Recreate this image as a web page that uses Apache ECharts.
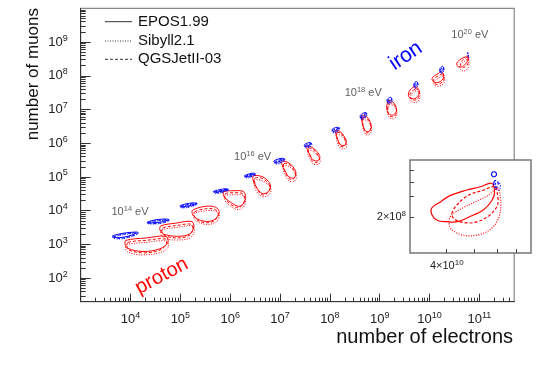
<!DOCTYPE html>
<html>

<head>
  <meta charset="utf-8" />
  <script src="https://cdn.jsdelivr.net/npm/echarts@6/dist/echarts.min.js"></script>
</head>

<body style="margin:0">
  <div id="main" style="width: 540px;height:366px;"></div>
  <script type="text/javascript">
    // contours in log10(Ne), log10(Nmu); one entry per primary energy
    var energies = [14, 14.5, 15, 15.5, 16, 16.5, 17, 17.5, 18, 18.5, 19, 19.5, 20]

    // proton, EPOS1.99 (solid)
    var protonEPOS = [
      [[3.91, 3.12], [4.31, 3.19], [4.71, 3.24], [4.75, 3.06], [4.59, 2.87], [4.25, 2.79], [3.95, 2.88], [3.89, 3.00]],
      [[4.61, 3.55], [4.91, 3.63], [5.23, 3.68], [5.27, 3.52], [5.19, 3.31], [4.95, 3.24], [4.67, 3.30], [4.59, 3.43]],
      [[5.25, 4.02], [5.51, 4.13], [5.71, 4.10], [5.78, 3.94], [5.69, 3.74], [5.53, 3.68], [5.33, 3.76], [5.24, 3.91]],
      [[5.87, 4.56], [6.06, 4.59], [6.26, 4.57], [6.31, 4.41], [6.26, 4.20], [6.16, 4.13], [6.00, 4.26], [5.88, 4.41]],
      [[6.46, 5.03], [6.62, 5.02], [6.74, 4.91], [6.81, 4.74], [6.76, 4.56], [6.64, 4.51], [6.52, 4.71], [6.46, 4.91]],
      [[7.04, 5.46], [7.16, 5.43], [7.26, 5.30], [7.32, 5.12], [7.28, 4.97], [7.18, 5.00], [7.10, 5.18], [7.04, 5.36]],
      [[7.54, 5.91], [7.64, 5.88], [7.74, 5.75], [7.80, 5.60], [7.76, 5.48], [7.66, 5.51], [7.60, 5.66], [7.55, 5.80]],
      [[8.11, 6.38], [8.20, 6.35], [8.28, 6.22], [8.33, 6.06], [8.30, 5.94], [8.22, 5.95], [8.16, 6.10], [8.12, 6.28]],
      [[8.64, 6.81], [8.72, 6.80], [8.79, 6.69], [8.83, 6.52], [8.80, 6.37], [8.73, 6.35], [8.67, 6.49], [8.64, 6.67]],
      [[9.17, 7.26], [9.25, 7.24], [9.32, 7.11], [9.33, 6.93], [9.26, 6.83], [9.17, 6.89], [9.14, 7.05], [9.15, 7.17]],
      [[9.69, 7.67], [9.76, 7.64], [9.79, 7.53], [9.75, 7.36], [9.65, 7.32], [9.58, 7.39], [9.59, 7.53], [9.64, 7.62]],
      [[10.23, 8.12], [10.28, 8.06], [10.27, 7.91], [10.19, 7.81], [10.09, 7.81], [10.05, 7.91], [10.10, 8.00], [10.17, 8.06]],
      [[10.76, 8.59], [10.72, 8.56], [10.67, 8.53], [10.61, 8.48], [10.58, 8.43], [10.55, 8.38], [10.55, 8.32], [10.57, 8.27],
       [10.60, 8.26], [10.64, 8.26], [10.68, 8.30], [10.73, 8.36], [10.76, 8.44], [10.77, 8.51]]
    ]

    // proton, Sibyll2.1 (dotted)
    var protonSibyll = [
      [[3.92, 2.99], [4.31, 3.06], [4.72, 3.10], [4.76, 2.93], [4.60, 2.76], [4.25, 2.69], [3.96, 2.76], [3.90, 2.88]],
      [[4.63, 3.43], [4.92, 3.50], [5.24, 3.55], [5.28, 3.38], [5.19, 3.19], [4.95, 3.13], [4.69, 3.18], [4.61, 3.31]],
      [[5.27, 3.91], [5.53, 4.00], [5.73, 3.97], [5.78, 3.81], [5.70, 3.65], [5.53, 3.59], [5.35, 3.66], [5.27, 3.78]],
      [[5.89, 4.44], [6.08, 4.47], [6.26, 4.45], [6.31, 4.29], [6.26, 4.10], [6.16, 4.03], [6.00, 4.14], [5.90, 4.29]],
      [[6.48, 4.91], [6.63, 4.89], [6.76, 4.77], [6.82, 4.60], [6.76, 4.45], [6.64, 4.42], [6.52, 4.59], [6.48, 4.79]],
      [[7.06, 5.34], [7.18, 5.31], [7.28, 5.17], [7.33, 4.99], [7.28, 4.87], [7.18, 4.89], [7.10, 5.06], [7.06, 5.24]],
      [[7.56, 5.80], [7.66, 5.76], [7.76, 5.62], [7.81, 5.48], [7.76, 5.37], [7.66, 5.39], [7.60, 5.54], [7.56, 5.69]],
      [[8.13, 6.26], [8.22, 6.23], [8.30, 6.09], [8.34, 5.94], [8.30, 5.84], [8.22, 5.85], [8.16, 5.98], [8.13, 6.16]],
      [[8.66, 6.69], [8.74, 6.67], [8.81, 6.56], [8.84, 6.40], [8.80, 6.27], [8.73, 6.25], [8.68, 6.37], [8.66, 6.55]],
      [[9.19, 7.14], [9.28, 7.11], [9.34, 6.97], [9.34, 6.81], [9.27, 6.72], [9.19, 6.77], [9.16, 6.92], [9.17, 7.05]],
      [[9.71, 7.55], [9.79, 7.51], [9.81, 7.39], [9.77, 7.24], [9.68, 7.21], [9.61, 7.27], [9.62, 7.39], [9.66, 7.49]],
      [[10.25, 8.00], [10.30, 7.93], [10.29, 7.79], [10.21, 7.70], [10.12, 7.70], [10.08, 7.79], [10.13, 7.88], [10.19, 7.94]],
      [[10.78, 8.55], [10.75, 8.49], [10.71, 8.44], [10.66, 8.38], [10.62, 8.32], [10.61, 8.26], [10.62, 8.19], [10.67, 8.14],
       [10.73, 8.16], [10.77, 8.23], [10.79, 8.34], [10.79, 8.48]]
    ]

    // proton, QGSJetII-03 (dashed)
    var protonQGS = [
      [[3.95, 3.06], [4.31, 3.12], [4.68, 3.16], [4.72, 3.00], [4.57, 2.82], [4.25, 2.75], [3.97, 2.83], [3.93, 2.94]],
      [[4.65, 3.49], [4.93, 3.56], [5.21, 3.60], [5.25, 3.45], [5.17, 3.26], [4.95, 3.19], [4.70, 3.25], [4.63, 3.37]],
      [[5.29, 3.97], [5.53, 4.06], [5.70, 4.03], [5.76, 3.88], [5.68, 3.70], [5.53, 3.64], [5.35, 3.71], [5.28, 3.85]],
      [[5.90, 4.50], [6.08, 4.53], [6.24, 4.51], [6.29, 4.35], [6.24, 4.16], [6.15, 4.09], [6.00, 4.20], [5.91, 4.35]],
      [[6.50, 4.97], [6.63, 4.96], [6.74, 4.85], [6.80, 4.68], [6.74, 4.51], [6.64, 4.47], [6.54, 4.65], [6.49, 4.85]],
      [[7.08, 5.40], [7.18, 5.37], [7.26, 5.24], [7.31, 5.06], [7.26, 4.93], [7.18, 4.95], [7.11, 5.12], [7.07, 5.30]],
      [[7.57, 5.85], [7.66, 5.82], [7.74, 5.69], [7.79, 5.54], [7.74, 5.43], [7.66, 5.45], [7.61, 5.60], [7.57, 5.74]],
      [[8.14, 6.32], [8.22, 6.29], [8.29, 6.16], [8.32, 6.00], [8.28, 5.90], [8.22, 5.91], [8.17, 6.04], [8.14, 6.22]],
      [[8.66, 6.75], [8.74, 6.73], [8.80, 6.62], [8.82, 6.46], [8.78, 6.32], [8.73, 6.31], [8.68, 6.43], [8.66, 6.61]],
      [[9.19, 7.20], [9.27, 7.17], [9.33, 7.04], [9.33, 6.87], [9.27, 6.78], [9.19, 6.83], [9.16, 6.99], [9.17, 7.11]],
      [[9.71, 7.61], [9.78, 7.58], [9.80, 7.46], [9.76, 7.31], [9.67, 7.28], [9.61, 7.34], [9.61, 7.46], [9.66, 7.55]],
      [[10.25, 8.06], [10.29, 8.00], [10.28, 7.86], [10.20, 7.76], [10.11, 7.76], [10.08, 7.86], [10.12, 7.95], [10.19, 8.00]],
      [[10.77, 8.56], [10.73, 8.53], [10.68, 8.49], [10.64, 8.41], [10.62, 8.33], [10.63, 8.28], [10.67, 8.25], [10.71, 8.26],
       [10.75, 8.31], [10.78, 8.40], [10.78, 8.50]]
    ]

    // iron, EPOS1.99 (solid)
    var ironEPOS = [
      [[3.63, 3.24], [3.81, 3.32], [4.03, 3.36], [4.14, 3.36], [4.01, 3.27], [3.77, 3.20]],
      [[4.33, 3.65], [4.47, 3.72], [4.65, 3.75], [4.76, 3.74], [4.63, 3.67], [4.43, 3.64]],
      [[4.99, 4.14], [5.11, 4.20], [5.25, 4.23], [5.33, 4.22], [5.21, 4.16], [5.07, 4.12]],
      [[5.66, 4.57], [5.78, 4.62], [5.90, 4.65], [5.96, 4.64], [5.86, 4.59], [5.73, 4.55]],
      [[6.28, 5.03], [6.36, 5.08], [6.44, 5.11], [6.50, 5.10], [6.43, 5.05], [6.34, 5.01]],
      [[6.87, 5.46], [6.94, 5.52], [7.02, 5.55], [7.09, 5.54], [7.02, 5.48], [6.93, 5.43]],
      [[7.48, 5.94], [7.54, 6.00], [7.60, 6.02], [7.63, 6.00], [7.59, 5.94], [7.52, 5.91]],
      [[8.04, 6.40], [8.09, 6.45], [8.15, 6.47], [8.19, 6.46], [8.14, 6.40], [8.08, 6.35]],
      [[8.60, 6.80], [8.65, 6.87], [8.70, 6.91], [8.74, 6.89], [8.70, 6.81], [8.64, 6.76]],
      [[9.14, 7.27], [9.18, 7.34], [9.22, 7.36], [9.24, 7.33], [9.22, 7.26], [9.17, 7.23]],
      [[9.68, 7.73], [9.71, 7.81], [9.74, 7.83], [9.76, 7.79], [9.74, 7.72], [9.70, 7.69]],
      [[10.20, 8.18], [10.23, 8.25], [10.26, 8.28], [10.28, 8.24], [10.26, 8.16], [10.22, 8.13]],
      [[10.777, 8.667], [10.772, 8.686], [10.764, 8.686], [10.759, 8.667], [10.764, 8.648], [10.772, 8.648]]
    ]

    // iron, Sibyll2.1 (dotted)
    var ironSibyll = [
      [[3.64, 3.20], [3.82, 3.28], [4.04, 3.32], [4.15, 3.32], [4.02, 3.23], [3.78, 3.16]],
      [[4.34, 3.62], [4.48, 3.68], [4.66, 3.71], [4.77, 3.70], [4.64, 3.63], [4.44, 3.60]],
      [[5.00, 4.10], [5.12, 4.16], [5.26, 4.19], [5.33, 4.18], [5.22, 4.12], [5.08, 4.08]],
      [[5.67, 4.53], [5.79, 4.58], [5.91, 4.61], [5.96, 4.60], [5.87, 4.55], [5.74, 4.51]],
      [[6.29, 4.99], [6.37, 5.04], [6.45, 5.07], [6.50, 5.06], [6.44, 5.01], [6.35, 4.97]],
      [[6.88, 5.41], [6.95, 5.47], [7.03, 5.50], [7.09, 5.49], [7.03, 5.43], [6.94, 5.38]],
      [[7.49, 5.89], [7.55, 5.95], [7.61, 5.97], [7.64, 5.95], [7.60, 5.89], [7.53, 5.86]],
      [[8.04, 6.35], [8.10, 6.40], [8.16, 6.42], [8.19, 6.41], [8.15, 6.35], [8.09, 6.30]],
      [[8.61, 6.74], [8.66, 6.81], [8.71, 6.85], [8.74, 6.83], [8.70, 6.75], [8.65, 6.70]],
      [[9.15, 7.21], [9.19, 7.28], [9.23, 7.30], [9.25, 7.27], [9.23, 7.20], [9.18, 7.17]],
      [[9.69, 7.67], [9.72, 7.75], [9.75, 7.77], [9.77, 7.73], [9.75, 7.66], [9.71, 7.63]],
      [[10.21, 8.12], [10.24, 8.19], [10.27, 8.22], [10.29, 8.18], [10.27, 8.10], [10.23, 8.07]],
      [[10.773, 8.585], [10.780, 8.600], [10.789, 8.585], [10.789, 8.545], [10.780, 8.530], [10.773, 8.545]]
    ]

    // iron, QGSJetII-03 (dashed)
    var ironQGS = [
      [[3.66, 3.22], [3.84, 3.30], [4.06, 3.34], [4.16, 3.34], [4.04, 3.25], [3.80, 3.18]],
      [[4.36, 3.64], [4.50, 3.70], [4.68, 3.73], [4.78, 3.72], [4.66, 3.65], [4.46, 3.62]],
      [[5.01, 4.12], [5.13, 4.18], [5.27, 4.21], [5.34, 4.20], [5.23, 4.14], [5.09, 4.10]],
      [[5.68, 4.55], [5.80, 4.60], [5.92, 4.63], [5.97, 4.62], [5.88, 4.57], [5.75, 4.53]],
      [[6.30, 5.01], [6.38, 5.06], [6.46, 5.09], [6.51, 5.08], [6.45, 5.03], [6.36, 4.99]],
      [[6.89, 5.43], [6.96, 5.49], [7.04, 5.52], [7.10, 5.51], [7.04, 5.45], [6.95, 5.40]],
      [[7.50, 5.91], [7.56, 5.97], [7.62, 5.99], [7.64, 5.97], [7.61, 5.91], [7.54, 5.88]],
      [[8.05, 6.37], [8.11, 6.42], [8.17, 6.44], [8.20, 6.43], [8.16, 6.37], [8.10, 6.32]],
      [[8.61, 6.77], [8.66, 6.84], [8.71, 6.88], [8.75, 6.86], [8.71, 6.78], [8.65, 6.73]],
      [[9.15, 7.24], [9.19, 7.31], [9.23, 7.33], [9.25, 7.30], [9.23, 7.23], [9.18, 7.20]],
      [[9.69, 7.70], [9.72, 7.78], [9.75, 7.80], [9.77, 7.76], [9.75, 7.69], [9.71, 7.66]],
      [[10.21, 8.15], [10.24, 8.22], [10.27, 8.25], [10.29, 8.21], [10.27, 8.13], [10.23, 8.10]],
      [[10.768, 8.600], [10.775, 8.615], [10.782, 8.600], [10.782, 8.570], [10.775, 8.555], [10.768, 8.570]]
    ]

    // energy annotations (log10 E) and where they sit in the plot
    var labelEnergies = [14, 16, 18, 20]
    var labelAt = [[3.99, 3.97], [6.45, 5.59], [8.67, 7.49], [10.81, 9.22]]

    var xMajor = [4, 5, 6, 7, 8, 9, 10, 11]
    var yMajor = [2, 3, 4, 5, 6, 7, 8, 9]

    var XMIN = 3, XMAX = Math.log10(5e11), YMIN = Math.log10(20), YMAX = 10
    var font = 'Liberation Sans'

    function minorTicks(lo, hi) {
      var out = []
      for (var n = Math.floor(lo); n <= Math.ceil(hi); n++) {
        for (var k = 2; k <= 9; k++) {
          var v = n + Math.log10(k)
          if (v > lo + 0.01 && v < hi - 0.005) out.push(v)
        }
      }
      return out
    }

    var rich = {
      b: { fontFamily: font, fontSize: 13, color: '#222', lineHeight: 17 },
      e: { fontFamily: font, fontSize: 9, color: '#222', lineHeight: 17, verticalAlign: 'top' }
    }
    function pow10(v) { return '{b|10}{e|' + Math.round(v) + '}' }

    function contour(set, color, dash, ax, width, z) {
      return {
        type: 'custom', xAxisIndex: ax, yAxisIndex: ax, clip: true, silent: true, z: z || 2,
        data: set.map(function (c) { return c[0] }),
        renderItem: function (params, api) {
          var pts = set[params.dataIndex].map(function (p) { return api.coord(p) })
          return {
            type: 'polygon',
            shape: { points: pts, smooth: 0.35 },
            style: { fill: 'none', stroke: color, lineWidth: width || 1, lineDash: dash }
          }
        }
      }
    }

    var RED = '#ff0000', BLUE = '#0000ff'
    var DOT = [1, 1.5], DASH = [3, 2]
    var last = energies.length - 1

    var myChart = echarts.init(document.getElementById('main'))

    var option = {
      animation: false,
      grid: [
        { left: 80.7, right: 25.8, top: 8.3, bottom: 64.3, show: true, borderColor: '#888', borderWidth: 1.2, outerBoundsMode: 'none' },
        { left: 410, top: 160, width: 121, height: 93, show: true, backgroundColor: '#fff', borderColor: '#777', borderWidth: 1.5, z: 3, outerBoundsMode: 'none' }
      ],
      xAxis: [
        {
          gridIndex: 0, type: 'value', min: XMIN, max: XMAX,
          axisLine: { show: true, lineStyle: { color: '#333' } },
          axisTick: { inside: true, length: 8, customValues: xMajor, lineStyle: { color: '#333' } },
          axisLabel: { customValues: xMajor, margin: 9, formatter: pow10, rich: rich },
          splitLine: { show: false }
        },
        {
          gridIndex: 0, type: 'value', min: XMIN, max: XMAX, position: 'bottom',
          axisLine: { show: false },
          axisTick: { inside: true, length: 4, customValues: minorTicks(XMIN, XMAX), lineStyle: { color: '#333' } },
          axisLabel: { show: false }, splitLine: { show: false }
        },
        {
          gridIndex: 1, type: 'value', min: 10.473, max: 10.898, z: 4,
          axisLine: { show: false },
          axisTick: { inside: true, length: 4, customValues: [Math.log10(4e10), Math.log10(5e10), Math.log10(6e10), Math.log10(7e10)], lineStyle: { color: '#444' } },
          axisLabel: {
            customValues: [Math.log10(4e10)], margin: 6, formatter: function () { return '{b|4×10}{e|10}' },
            rich: {
              b: { fontFamily: font, fontSize: 11, color: '#222', lineHeight: 14 },
              e: { fontFamily: font, fontSize: 8, color: '#222', lineHeight: 14, verticalAlign: 'top' }
            }
          },
          splitLine: { show: false }
        }
      ],
      yAxis: [
        {
          gridIndex: 0, type: 'value', min: YMIN, max: YMAX,
          axisLine: { show: true, lineStyle: { color: '#333' } },
          axisTick: { inside: true, length: 10, customValues: yMajor, lineStyle: { color: '#333' } },
          axisLabel: { customValues: yMajor, margin: 13, formatter: pow10, rich: rich },
          splitLine: { show: false }
        },
        {
          gridIndex: 0, type: 'value', min: YMIN, max: YMAX, position: 'left',
          axisLine: { show: false },
          axisTick: { inside: true, length: 5, customValues: minorTicks(YMIN, YMAX), lineStyle: { color: '#333' } },
          axisLabel: { show: false }, splitLine: { show: false }
        },
        {
          gridIndex: 1, type: 'value', min: 7.991, max: 8.790, z: 4,
          axisLine: { show: false },
          axisTick: { inside: true, length: 4, customValues: [Math.log10(2e8), Math.log10(3e8), Math.log10(4e8), Math.log10(5e8)], lineStyle: { color: '#444' } },
          axisLabel: {
            customValues: [Math.log10(2e8)], margin: 4, formatter: function () { return '{b|2×10}{e|8}' },
            rich: {
              b: { fontFamily: font, fontSize: 11, color: '#222', lineHeight: 14 },
              e: { fontFamily: font, fontSize: 8, color: '#222', lineHeight: 14, verticalAlign: 'top' }
            }
          },
          splitLine: { show: false }
        }
      ],
      series: [
        contour(protonEPOS, RED, null, 0),
        contour(protonSibyll, RED, DOT, 0),
        contour(protonQGS, RED, DASH, 0),
        contour(ironEPOS, BLUE, null, 0),
        contour(ironSibyll, BLUE, DOT, 0),
        contour(ironQGS, BLUE, DASH, 0),
        // inset: zoom on the highest energy
        contour([protonEPOS[last]], RED, null, 2, 1.2, 5),
        contour([protonSibyll[last]], RED, DOT, 2, 1.2, 5),
        contour([protonQGS[last]], RED, DASH, 2, 1.2, 5),
        contour([ironEPOS[last]], BLUE, null, 2, 1.2, 5),
        contour([ironSibyll[last]], BLUE, DOT, 2, 1.2, 5),
        contour([ironQGS[last]], BLUE, DASH, 2, 1.2, 5),
        {
          type: 'scatter', xAxisIndex: 0, yAxisIndex: 0, symbolSize: 0, silent: true,
          data: labelAt,
          label: {
            show: true, position: 'inside',
            formatter: function (p) { return '{b|10}{e|' + labelEnergies[p.dataIndex] + '}{b| eV}' },
            rich: {
              b: { fontFamily: font, fontSize: 11, color: '#333', lineHeight: 14 },
              e: { fontFamily: font, fontSize: 7.5, color: '#333', lineHeight: 14, verticalAlign: 'top' }
            }
          }
        }
      ],
      graphic: [
        { type: 'line', shape: { x1: 105, y1: 21.7, x2: 132, y2: 21.7 }, style: { stroke: '#333', lineWidth: 1 } },
        { type: 'line', shape: { x1: 105, y1: 41, x2: 132, y2: 41 }, style: { stroke: '#333', lineWidth: 1, lineDash: DOT } },
        { type: 'line', shape: { x1: 105, y1: 59.3, x2: 132, y2: 59.3 }, style: { stroke: '#333', lineWidth: 1, lineDash: DASH } },
        { type: 'text', x: 138, y: 21.7, style: { text: 'EPOS1.99', font: '15px ' + font, fill: '#111', verticalAlign: 'middle' } },
        { type: 'text', x: 138, y: 41, style: { text: 'Sibyll2.1', font: '15px ' + font, fill: '#111', verticalAlign: 'middle' } },
        { type: 'text', x: 138, y: 59.3, style: { text: 'QGSJetII-03', font: '15px ' + font, fill: '#111', verticalAlign: 'middle' } },
        { type: 'text', x: 405.8, y: 56, rotation: 34 * Math.PI / 180, style: { text: 'iron', font: '21px ' + font, fill: BLUE, align: 'center', verticalAlign: 'middle' } },
        { type: 'text', x: 161.7, y: 276, rotation: 28 * Math.PI / 180, style: { text: 'proton', font: '20px ' + font, fill: RED, align: 'center', verticalAlign: 'middle' } },
        { type: 'text', x: 513, y: 337, style: { text: 'number of electrons', font: '20px ' + font, fill: '#111', align: 'right', verticalAlign: 'middle' } },
        { type: 'text', x: 33, y: 8, rotation: Math.PI / 2, style: { text: 'number of muons', font: '17px ' + font, fill: '#111', align: 'right', verticalAlign: 'middle' } }
      ]
    }

    myChart.setOption(option)
  </script>
</body>

</html>
